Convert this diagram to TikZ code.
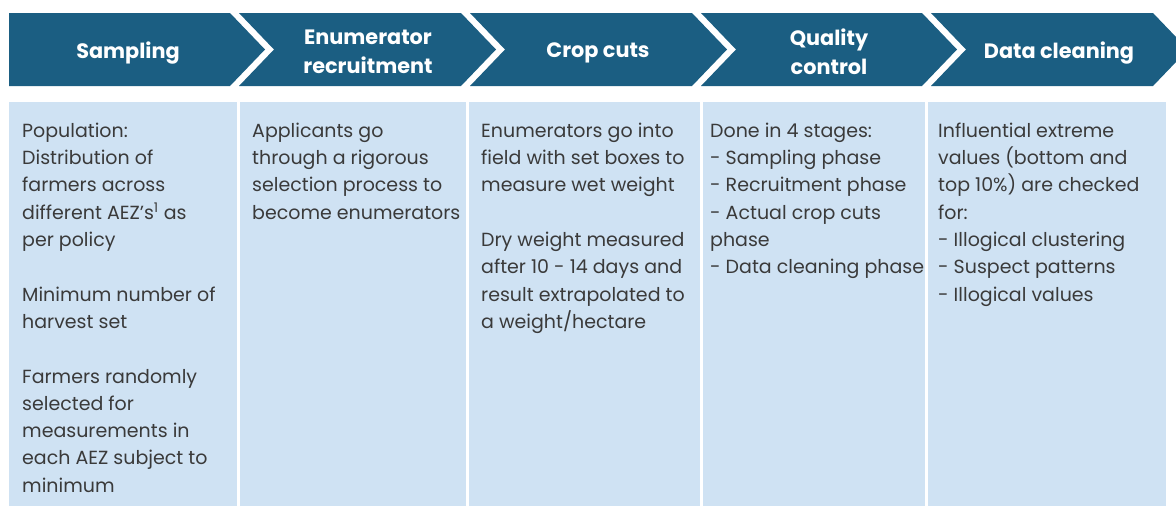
\documentclass[tikz,border=0pt]{standalone}
\usepackage{fontspec}
\setmainfont{Poppins}
\definecolor{barblue}{HTML}{1B5E82}
\definecolor{cellblue}{HTML}{CFE2F3}
\definecolor{bodytext}{HTML}{3A3A3A}
\tikzset{
  stagebox/.style={fill=barblue, draw=none},
  stagelabel/.style={text=white, font=\fontsize{20.8}{29}\selectfont\bfseries, align=center, inner sep=0pt},
  cellbox/.style={fill=cellblue, draw=none},
  celltext/.style={text=bodytext, font=\fontsize{19}{27.3}\selectfont, align=left, anchor=north west, inner sep=0pt},
}
\begin{document}
\begin{tikzpicture}[x=1pt,y=-1pt]
\useasboundingbox (0,0) rectangle (1176,506);
\clip (0,0) rectangle (1176,506);

% chevron stages
\fill[stagebox] (9,13) -- (230,13) -- (265,49.5) -- (230,86) -- (9,86) -- cycle;
\fill[stagebox] (239,13) -- (461,13) -- (496,49.5) -- (461,86) -- (239,86) -- (274,49.5) -- cycle;
\fill[stagebox] (470,13) -- (692,13) -- (727,49.5) -- (692,86) -- (470,86) -- (505,49.5) -- cycle;
\fill[stagebox] (701,13) -- (922,13) -- (957,49.5) -- (922,86) -- (701,86) -- (736,49.5) -- cycle;
\fill[stagebox] (931,13) -- (1153,13) -- (1188,49.5) -- (1153,86) -- (931,86) -- (966,49.5) -- cycle;

\node[stagelabel] (s1) at (128,53) {Sampling};
\node[stagelabel] (s2) at (368,51.5) {Enumerator\\recruitment};
\node[stagelabel] (s3) at (598,53) {Crop cuts};
\node[stagelabel] (s4) at (829,51.5) {Quality\\control};
\node[stagelabel] (s5) at (1059,53) {Data cleaning};

% detail cells
\fill[cellbox] (9,102) rectangle (237,506);
\fill[cellbox] (240,102) rectangle (466,506);
\fill[cellbox] (469,102) rectangle (700,506);
\fill[cellbox] (703,102) rectangle (925,506);
\fill[cellbox] (928,102) rectangle (1166,506);

\node[celltext] (c1) at (22,118) {\strut Population:\\Distribution of\\farmers across\\different AEZ’s\textsuperscript{1} as\\per policy\\\mbox{}\\Minimum number of\\harvest set\\\mbox{}\\Farmers randomly\\selected for\\measurements in\\each AEZ subject to\\minimum};
\node[celltext] (c2) at (252,118) {\strut Applicants go\\through a rigorous\\selection process to\\become enumerators};
\node[celltext] (c3) at (481,118) {\strut Enumerators go into\\field with set boxes to\\measure wet weight\\\mbox{}\\Dry weight measured\\after 10 - 14 days and\\result extrapolated to\\a weight/hectare};
\node[celltext] (c4) at (710,118) {\strut Done in 4 stages:\\- Sampling phase\\- Recruitment phase\\- Actual crop cuts\\phase\\- Data cleaning phase};
\node[celltext] (c5) at (938,118) {\strut Influential extreme\\values (bottom and\\top 10\%) are checked\\for:\\- Illogical clustering\\- Suspect patterns\\- Illogical values};
\end{tikzpicture}
\end{document}
